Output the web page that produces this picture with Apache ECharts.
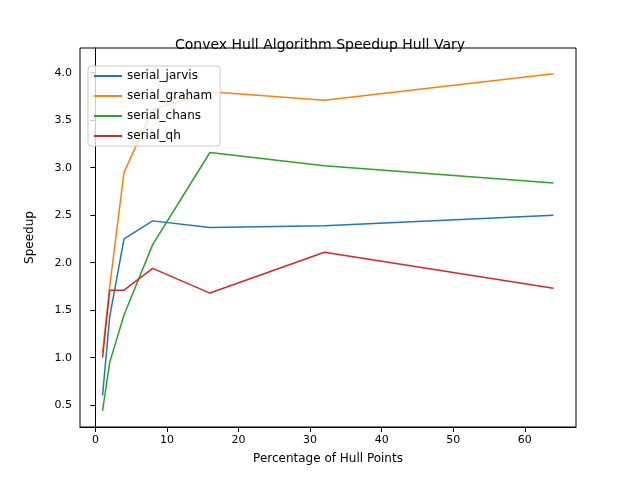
<!DOCTYPE html>
<html><head><meta charset="utf-8">
<script src="https://cdn.jsdelivr.net/npm/echarts@6/dist/echarts.min.js"></script>
<style>html,body{margin:0;background:#fff}#c{width:640px;height:480px}</style>
</head><body><div id="c"></div>
<script>
var xs = [1, 2, 4, 8, 16, 32, 64];
var names = ['serial_jarvis', 'serial_graham', 'serial_chans', 'serial_qh'];
var colors = ['#1f77b4', '#ff7f0e', '#2ca02c', '#d62728'];
var jarvis = [0.6, 1.43, 2.25, 2.44, 2.37, 2.39, 2.5];
var graham = [1.05, 1.75, 2.95, 3.61, 3.8, 3.71, 3.99];
var chans = [0.44, 0.95, 1.45, 2.19, 3.16, 3.02, 2.84];
var qh = [1.0, 1.71, 1.71, 1.94, 1.68, 2.11, 1.73];
var datas = [jarvis, graham, chans, qh];
var xTicks = [0, 10, 20, 30, 40, 50, 60];
var yTicks = [0.5, 1.0, 1.5, 2.0, 2.5, 3.0, 3.5, 4.0];

var series = [];
for (var i = 0; i < names.length; i++) {
  series.push({
    name: names[i], type: 'line', symbol: 'none',
    lineStyle: {width: 1.5, color: colors[i]}, itemStyle: {color: colors[i]},
    data: xs.map(function (x, j) { return [x, datas[i][j]]; })
  });
}
var font = 'DejaVu Sans';
var chart = echarts.init(document.getElementById('c'));
chart.setOption({
  animation: false,
  backgroundColor: '#fff',
  title: {text: 'Convex Hull Algorithm Speedup Hull Vary', left: 'center', top: 33,
    textStyle: {fontFamily: font, fontSize: 14, fontWeight: 'normal', color: '#000'}},
  legend: {
    orient: 'vertical', left: 88, top: 66, itemWidth: 28, itemHeight: 2, itemGap: 8,
    borderColor: '#ccc', borderWidth: 1, borderRadius: 3, padding: [4, 8, 4, 6],
    backgroundColor: 'rgba(255,255,255,0.8)', icon: 'rect',
    textStyle: {fontFamily: font, fontSize: 12, color: '#000'}, data: names
  },
  grid: {left: 80, right: 64, top: 48, bottom: 53, show: true, borderColor: '#000', borderWidth: 1},
  xAxis: {
    type: 'value', min: -2.15, max: 67.15,
    name: 'Percentage of Hull Points', nameLocation: 'middle', nameGap: 26,
    nameTextStyle: {fontFamily: font, fontSize: 12, color: '#000'},
    axisLine: {show: true, lineStyle: {color: '#000'}},
    axisTick: {show: true, customValues: xTicks, lineStyle: {color: '#000'}},
    axisLabel: {fontFamily: font, fontSize: 11, color: '#000', customValues: xTicks},
    splitLine: {show: false}
  },
  yAxis: {
    type: 'value', min: 0.27, max: 4.26,
    name: 'Speedup', nameLocation: 'middle', nameGap: 44,
    nameTextStyle: {fontFamily: font, fontSize: 12, color: '#000'},
    axisLine: {show: true, lineStyle: {color: '#000'}},
    axisTick: {show: true, customValues: yTicks, lineStyle: {color: '#000'}},
    axisLabel: {fontFamily: font, fontSize: 11, color: '#000', customValues: yTicks,
      formatter: function (v) { return v.toFixed(1); }},
    splitLine: {show: false}
  },
  series: series
});
</script></body></html>
